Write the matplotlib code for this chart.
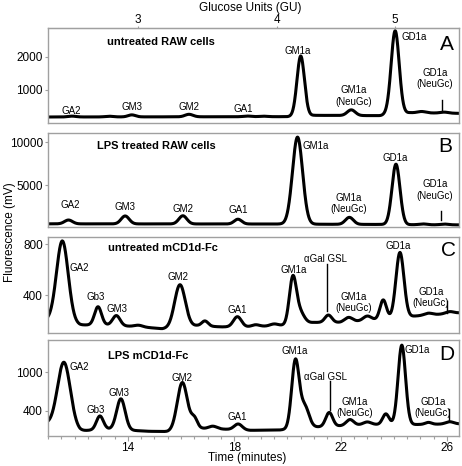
import numpy as np
import matplotlib
matplotlib.use("Agg")
import matplotlib.pyplot as plt
from matplotlib.lines import Line2D

plt.rcParams['font.family'] = ['Liberation Sans', 'DejaVu Sans']

# ---------------- data ----------------
time_lim = (11.0, 26.45)
time_ticks = [14, 18, 22, 26]
gu_tick_times = [14.38, 19.6, 24.05]
gu_labels = ['3', '4', '5']

# Panel A: untreated RAW cells
a_base_t = [11.0, 20.0, 21.0, 23.5, 24.6, 26.45]
a_base_v = [190, 200, 240, 230, 320, 300]
a_peak_t = [11.9, 13.3, 14.15, 16.3, 18.5, 19.1, 20.5, 22.4, 23.75, 24.05, 25.05, 25.9]
a_peak_h = [25, 20, 60, 75, 20, 15, 1800, 170, 30, 2500, 40, 30]
a_peak_w = [0.15, 0.15, 0.14, 0.15, 0.15, 0.15, 0.14, 0.15, 0.12, 0.15, 0.15, 0.15]
a_ylim = (10, 2860)
a_yticks = [1000, 2000]

# Panel B: LPS treated RAW cells
b_base_t = [11.0, 19.5, 21.5, 23.5, 25.0, 26.45]
b_base_v = [450, 430, 400, 380, 340, 330]
b_peak_t = [11.77, 13.9, 16.07, 18.14, 20.38, 22.33, 24.08, 25.1, 25.9]
b_peak_h = [450, 930, 960, 560, 10200, 820, 7080, 100, 90]
b_peak_w = [0.15, 0.15, 0.15, 0.14, 0.19, 0.15, 0.15, 0.15, 0.15]
b_ylim = (80, 11100)
b_yticks = [5000, 10000]

# Panel C: untreated mCD1d-Fc
c_base_t = [11.0, 12.2, 13.2, 14.5, 15.3, 16.6, 17.5, 18.6, 19.7, 21.0, 22.0, 23.0, 24.8, 26.45]
c_base_v = [200, 165, 165, 150, 135, 160, 150, 150, 160, 185, 185, 200, 235, 260]
c_peak_t = [11.54, 12.88, 13.57, 14.4, 15.96, 16.9, 18.12, 18.8, 19.5, 20.2, 20.45,
            21.54, 22.3, 23.0, 23.6, 24.23, 25.3, 26.1]
c_peak_h = [640, 143, 78, 12, 333, 40, 80, 15, 15, 350, 95,
            58, 35, 35, 150, 510, 15, 15]
c_peak_w = [0.22, 0.13, 0.14, 0.15, 0.2, 0.12, 0.15, 0.15, 0.15, 0.13, 0.17,
            0.13, 0.15, 0.15, 0.12, 0.15, 0.15, 0.15]
c_ylim = (102, 855)
c_yticks = [400, 800]

# Panel D: LPS mCD1d-Fc
d_base_t = [11.0, 12.2, 13.2, 14.8, 15.5, 16.8, 17.5, 18.6, 19.7, 21.0, 22.0, 23.0, 24.8, 26.45]
d_base_v = [200, 90, 120, 85, 80, 130, 120, 100, 105, 150, 170, 190, 190, 200]
d_peak_t = [11.6, 12.95, 13.74, 16.05, 16.5, 17.2, 18.15, 20.3, 20.65, 21.57, 22.35,
            23.0, 23.7, 24.3, 25.3, 26.1]
d_peak_h = [1010, 210, 480, 740, 160, 40, 90, 1050, 330, 215, 90,
            40, 165, 1230, 30, 35]
d_peak_w = [0.24, 0.13, 0.16, 0.19, 0.12, 0.15, 0.15, 0.14, 0.16, 0.13, 0.14,
            0.15, 0.12, 0.14, 0.12, 0.15]
d_ylim = (12, 1500)
d_yticks = [400, 1000]

titles = ['untreated RAW cells', 'LPS treated RAW cells', 'untreated mCD1d-Fc', 'LPS mCD1d-Fc']
letters = ['A', 'B', 'C', 'D']

# ---------------- layout ----------------
W, H = 462, 466
fig = plt.figure(figsize=(W / 100, H / 100), dpi=100)
boxes = [(48, 28, 459, 123), (48, 133, 459, 227), (48, 237, 459, 333), (48, 340, 459, 436)]
GRAY = '#a0a0a0'


def trace(bt, bv, pt, ph, pw, t):
    y = np.interp(t, bt, bv)
    for c, h, w in zip(pt, ph, pw):
        y = y + h * np.exp(-(t - c) ** 2 / (2 * w ** 2))
    return y


def pf(box, x, y):
    L, T, R, B = box
    return ((x - L) / (R - L), (B - y) / (B - T))


t = np.linspace(time_lim[0], time_lim[1], 2000)
panels = [
    (a_base_t, a_base_v, a_peak_t, a_peak_h, a_peak_w, a_ylim, a_yticks),
    (b_base_t, b_base_v, b_peak_t, b_peak_h, b_peak_w, b_ylim, b_yticks),
    (c_base_t, c_base_v, c_peak_t, c_peak_h, c_peak_w, c_ylim, c_yticks),
    (d_base_t, d_base_v, d_peak_t, d_peak_h, d_peak_w, d_ylim, d_yticks),
]

# labels: (text, x_px, y_px, ha)
labels = [
    [('GA2', 71.7, 111, 'center'), ('GM3', 131.7, 107.3, 'center'), ('GM2', 189, 107.3, 'center'),
     ('GA1', 243, 109, 'center'), ('GM1a', 298, 50.7, 'center'), ('GM1a\n(NeuGc)', 354, 96, 'center'),
     ('GD1a', 401, 37, 'left'), ('GD1a\n(NeuGc)', 435, 78.5, 'center')],
    [('GA2', 70.7, 205, 'center'), ('GM3', 125, 206.7, 'center'), ('GM2', 183.3, 209, 'center'),
     ('GA1', 238.7, 210, 'center'), ('GM1a', 302.7, 146, 'left'), ('GM1a\n(NeuGc)', 349, 203.3, 'center'),
     ('GD1a', 395, 157.7, 'center'), ('GD1a\n(NeuGc)', 435, 190, 'center')],
    [('GA2', 69.3, 268.3, 'left'), ('Gb3', 95.7, 296.7, 'center'), ('GM3', 117.3, 309, 'center'),
     ('GM2', 178.3, 277.3, 'center'), ('GA1', 237.3, 310, 'center'), ('GM1a', 293.3, 270, 'center'),
     ('αGal GSL', 325, 259.3, 'center'), ('GM1a\n(NeuGc)', 353.3, 302.5, 'center'),
     ('GD1a', 398.3, 246, 'center'), ('GD1a\n(NeuGc)', 431, 297.8, 'center')],
    [('GA2', 70, 366.7, 'left'), ('Gb3', 96, 410, 'center'), ('GM3', 119, 393.3, 'center'),
     ('GM2', 181.7, 377.7, 'center'), ('GA1', 237.3, 416.7, 'center'), ('GM1a', 295, 351, 'center'),
     ('αGal GSL', 325, 376.7, 'center'), ('GM1a\n(NeuGc)', 355, 407.5, 'center'),
     ('GD1a', 404.3, 350, 'left'), ('GD1a\n(NeuGc)', 433, 407.5, 'center')],
]
# marker lines: (x_px, y_top_px, y_bottom_px)
marks = [
    [(442, 100, 111)],
    [(440.7, 211, 220)],
    [(327.3, 264.3, 311), (447.3, 301, 313.3)],
    [(330, 381, 410), (449.3, 409, 421)],
]
title_pos = [(107, 41.7), (96.7, 146), (108.3, 248.3), (107.7, 355.7)]
letter_pos = [(447, 45), (445, 146), (448, 250), (446.7, 355)]

axes = []
for i, (box, p) in enumerate(zip(boxes, panels)):
    L, T, R, B = box
    ax = fig.add_axes([L / W, 1 - B / H, (R - L) / W, (B - T) / H])
    bt, bv, pt, ph, pw, ylim, yticks = p
    ax.plot(t, trace(bt, bv, pt, ph, pw, t), color='black', lw=2.2, solid_joinstyle='round')
    ax.set_xlim(*time_lim)
    ax.set_ylim(*ylim)
    ax.set_yticks(yticks)
    for s in ax.spines.values():
        s.set_color(GRAY)
        s.set_linewidth(1.0)
    ax.tick_params(axis='y', direction='out', length=2.5, width=0.8, color=GRAY,
                   labelsize=8.5, pad=1.2)
    if i < 3:
        ax.tick_params(axis='x', bottom=False, labelbottom=False)
    else:
        ax.set_xticks(time_ticks)
        ax.set_xticks(np.arange(11.0, 26.5, 0.5), minor=True)
        ax.tick_params(axis='x', which='major', direction='out', length=3.5, width=0.8,
                       color=GRAY, labelsize=8.5, pad=0.8)
        ax.tick_params(axis='x', which='minor', direction='out', length=2, width=0.8,
                       color=GRAY)
    for txt, x, y, ha in labels[i]:
        ax.text(*pf(box, x, y), txt, transform=ax.transAxes, ha=ha, va='center',
                fontsize=7, linespacing=1.15)
    for x, y0, y1 in marks[i]:
        (fx, fy0), (_, fy1) = pf(box, x, y0), pf(box, x, y1)
        ax.add_line(Line2D([fx, fx], [fy0, fy1], transform=ax.transAxes, color='black', lw=1.0))
    ax.text(*pf(box, *title_pos[i]), titles[i], transform=ax.transAxes, ha='left', va='center',
            fontsize=8, fontweight='bold')
    ax.text(*pf(box, *letter_pos[i]), letters[i], transform=ax.transAxes, ha='center', va='center',
            fontsize=15)
    axes.append(ax)

top = axes[0].secondary_xaxis('top')
top.set_xticks(gu_tick_times, labels=gu_labels)
top.tick_params(direction='out', length=1.6, width=0.8, color=GRAY, labelsize=8.5, pad=0.0)
top.spines['top'].set_color(GRAY)

fig.text(250 / W, 1 - 8 / H, 'Glucose Units (GU)', ha='center', va='center', fontsize=8.5)
fig.text(10 / W, 1 - 232 / H, 'Fluorescence (mV)', rotation=90, ha='center', va='center', fontsize=8.5)
fig.text(246.7 / W, 1 - 458.5 / H, 'Time (minutes)', ha='center', va='center', fontsize=8.5)

fig.savefig('out.png', dpi=100)
